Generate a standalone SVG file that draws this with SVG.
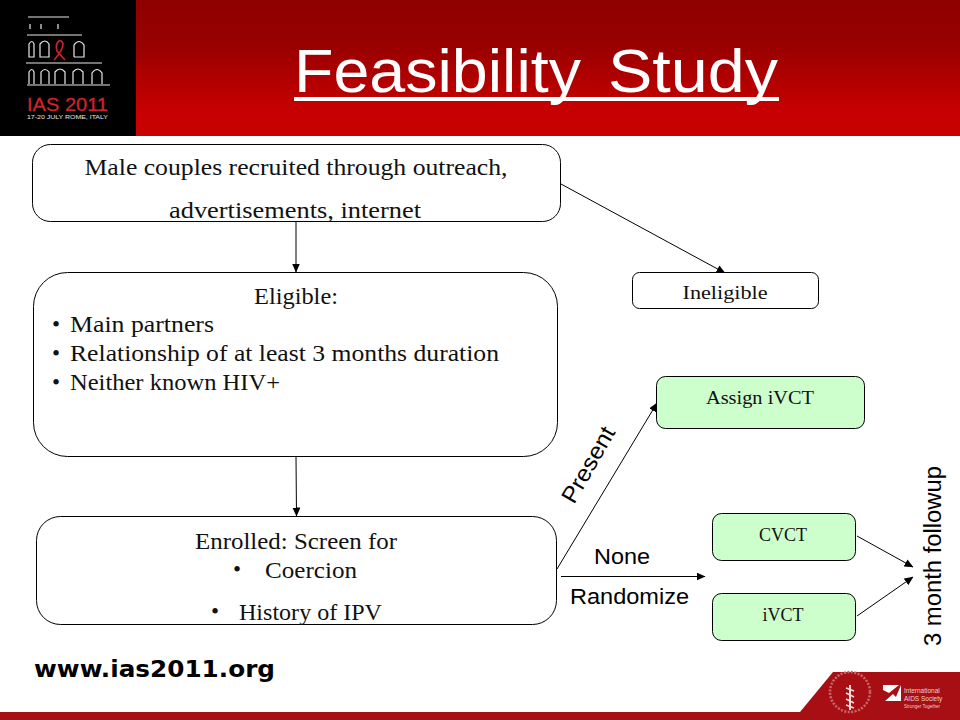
<svg xmlns="http://www.w3.org/2000/svg" width="960" height="720" viewBox="0 0 960 720">
<style>
.box{fill:#fff;stroke:#000;stroke-width:1}
.green{fill:#ccffcc;stroke:#000;stroke-width:1}
.s{font-family:"Liberation Serif","Noto Serif",serif;fill:#111}
.a{font-family:"Liberation Sans",Arial,sans-serif;fill:#000}
.c{text-anchor:middle}
.edge{stroke:#000;stroke-width:1;fill:none;marker-end:url(#arr)}
.lg{stroke:#e8e8e8;stroke-width:1.2;fill:none}
</style>
<defs>
<linearGradient id="hdr" x1="0" y1="0" x2="0" y2="1"><stop offset="0" stop-color="#8f0000"/><stop offset="0.35" stop-color="#9a0000"/><stop offset="0.8" stop-color="#c60000"/><stop offset="1" stop-color="#c80000"/></linearGradient>
<marker id="arr" markerUnits="userSpaceOnUse" markerWidth="9" markerHeight="8" refX="8.5" refY="4" orient="auto"><path d="M0 0L9 4L0 8Z" fill="#000"/></marker>
</defs>
<rect width="960" height="720" fill="#fff"/>
<g id="header">
<rect x="136" y="0" width="824" height="136" fill="url(#hdr)"/>
<rect x="0" y="0" width="136" height="136" fill="#000"/>
<path class="lg" d="M28 17H69M27 35H82M26 63H102M27 85H110"/>
<path class="lg" d="M30 24V29M41 24V29M58 24V29"/>
<path class="lg" d="M29 57V44Q32 39 34 44V57ZM40 57V44Q45 38 49 44V57ZM74 57V45Q79 38 84 45V57H74"/>
<path d="M65 60L57 51Q55 44 59 41Q62 40 63 44Q63 50 54 60" fill="none" stroke="#d2232a" stroke-width="1.6"/>
<path class="lg" d="M29 84V72Q32 67 34 72V84M41 84V72Q45 67 49 72V84M55 84V72Q60 66 65 72V84M73 84V72Q78 66 83 72V84M92 84V73Q97 66 102 73V84"/>
<text x="27" y="111" font-family="Liberation Sans,sans-serif" font-size="19" fill="#d2232a" stroke="#d2232a" stroke-width="0.3" textLength="81" lengthAdjust="spacingAndGlyphs">IAS 2011</text>
<text x="27" y="118.500" font-family="Liberation Sans,sans-serif" font-size="5.5" fill="#e8e8e8" textLength="81" lengthAdjust="spacingAndGlyphs">17-20 JULY ROME, ITALY</text>
<text font-family="Liberation Sans,sans-serif" font-size="62" fill="#fff" y="92"><tspan x="294" textLength="287" lengthAdjust="spacingAndGlyphs">Feasibility</tspan><tspan x="608" textLength="170" lengthAdjust="spacingAndGlyphs">Study</tspan></text>
<rect x="294" y="97" width="485" height="4" fill="#fff"/>
</g>
<g id="footer">
<path d="M800 712L833 672H960V712Z" fill="#a80f14"/>
<rect x="0" y="712" width="960" height="8" fill="#a80f14"/>
<circle cx="850" cy="692" r="20" fill="none" stroke="#c9686c" stroke-width="2.5" stroke-dasharray="2 1.5"/>
<path d="M850 685V710" stroke="#f3dcdc" stroke-width="2"/>
<path d="M846 693L854 697M846 699L854 703M846 705L854 708M846 688L854 691" stroke="#f3dcdc" stroke-width="1.6"/>
<path d="M883 685H899L889 693L883 690ZM901 685V701H885L893 694L896 697Z" fill="#fff"/>
<text x="904" y="693" font-family="Liberation Sans,sans-serif" font-size="6.5" fill="#eccfcf">International</text>
<text x="904" y="701" font-family="Liberation Sans,sans-serif" font-size="6.5" fill="#eccfcf">AIDS Society</text>
<text x="904" y="708" font-family="Liberation Sans,sans-serif" font-size="4.5" fill="#eccfcf">Stronger Together</text>
<text x="34" y="677" font-family="DejaVu Sans,sans-serif" font-size="23" font-weight="bold" fill="#000" textLength="241" lengthAdjust="spacingAndGlyphs">www.ias2011.org</text>
</g>
<g id="connectors">
<path class="edge" d="M296 222L296 272"/>
<path class="edge" d="M561 184L725 273"/>
<path class="edge" d="M296 457L296.500 516"/>
<path class="edge" d="M557 569L657 403"/>
<path class="edge" d="M561 576.500H705"/>
<path class="edge" d="M857 536L913 567"/>
<path class="edge" d="M857 616L913 577"/>
</g>
<g id="n-recruit">
<rect class="box" x="32.500" y="144.500" width="528" height="77" rx="18"/>
<text class="s c" x="296" y="175" font-size="23" textLength="423" lengthAdjust="spacingAndGlyphs">Male couples recruited through outreach,</text>
<text class="s c" x="295" y="218" font-size="23" textLength="252" lengthAdjust="spacingAndGlyphs">advertisements, internet</text>
</g>
<g id="n-eligible">
<rect class="box" x="33.500" y="272.500" width="524" height="184" rx="34"/>
<text class="s c" x="296" y="304" font-size="23" textLength="84" lengthAdjust="spacingAndGlyphs">Eligible:</text>
<text class="s" x="52" y="332" font-size="23">•</text>
<text class="s" x="70" y="332" font-size="23" textLength="144" lengthAdjust="spacingAndGlyphs">Main partners</text>
<text class="s" x="52" y="361" font-size="23">•</text>
<text class="s" x="70" y="361" font-size="23" textLength="429" lengthAdjust="spacingAndGlyphs">Relationship of at least 3 months duration</text>
<text class="s" x="52" y="390" font-size="23">•</text>
<text class="s" x="70" y="390" font-size="23" textLength="210" lengthAdjust="spacingAndGlyphs">Neither known HIV+</text>
</g>
<g id="n-enrolled">
<rect class="box" x="36.500" y="516.500" width="520" height="108" rx="24"/>
<text class="s c" x="296" y="549" font-size="23" textLength="202" lengthAdjust="spacingAndGlyphs">Enrolled: Screen for</text>
<text class="s" x="233" y="577" font-size="23">•</text>
<text class="s" x="265" y="578" font-size="23" textLength="92" lengthAdjust="spacingAndGlyphs">Coercion</text>
<text class="s" x="211" y="619" font-size="23">•</text>
<text class="s" x="239" y="620" font-size="23" textLength="143" lengthAdjust="spacingAndGlyphs">History of IPV</text>
</g>
<g id="n-ineligible">
<rect class="box" x="632.500" y="272.500" width="186" height="36" rx="7"/>
<text class="s c" x="725" y="299" font-size="19" textLength="85" lengthAdjust="spacingAndGlyphs">Ineligible</text>
</g>
<g id="n-assign">
<rect class="green" x="656.500" y="376.500" width="208" height="52" rx="9"/>
<text class="s c" x="760" y="404" font-size="19" textLength="108" lengthAdjust="spacingAndGlyphs">Assign iVCT</text>
</g>
<g id="n-cvct">
<rect class="green" x="712.500" y="513.500" width="143" height="47" rx="9"/>
<text class="s c" x="783" y="541" font-size="19" textLength="48" lengthAdjust="spacingAndGlyphs">CVCT</text>
</g>
<g id="n-ivct">
<rect class="green" x="712.500" y="593.500" width="143" height="47" rx="9"/>
<text class="s c" x="783" y="621" font-size="19" textLength="41" lengthAdjust="spacingAndGlyphs">iVCT</text>
</g>
<g id="labels">
<text class="a" x="594" y="564" font-size="22" textLength="56" lengthAdjust="spacingAndGlyphs">None</text>
<text class="a" x="570" y="604" font-size="22" textLength="119" lengthAdjust="spacingAndGlyphs">Randomize</text>
<text class="a" font-size="23" transform="translate(574 505) rotate(-60)" textLength="84" lengthAdjust="spacingAndGlyphs">Present</text>
<text class="a" font-size="23" transform="translate(941 646) rotate(-90)" textLength="180" lengthAdjust="spacingAndGlyphs">3 month followup</text>
</g>
</svg>
